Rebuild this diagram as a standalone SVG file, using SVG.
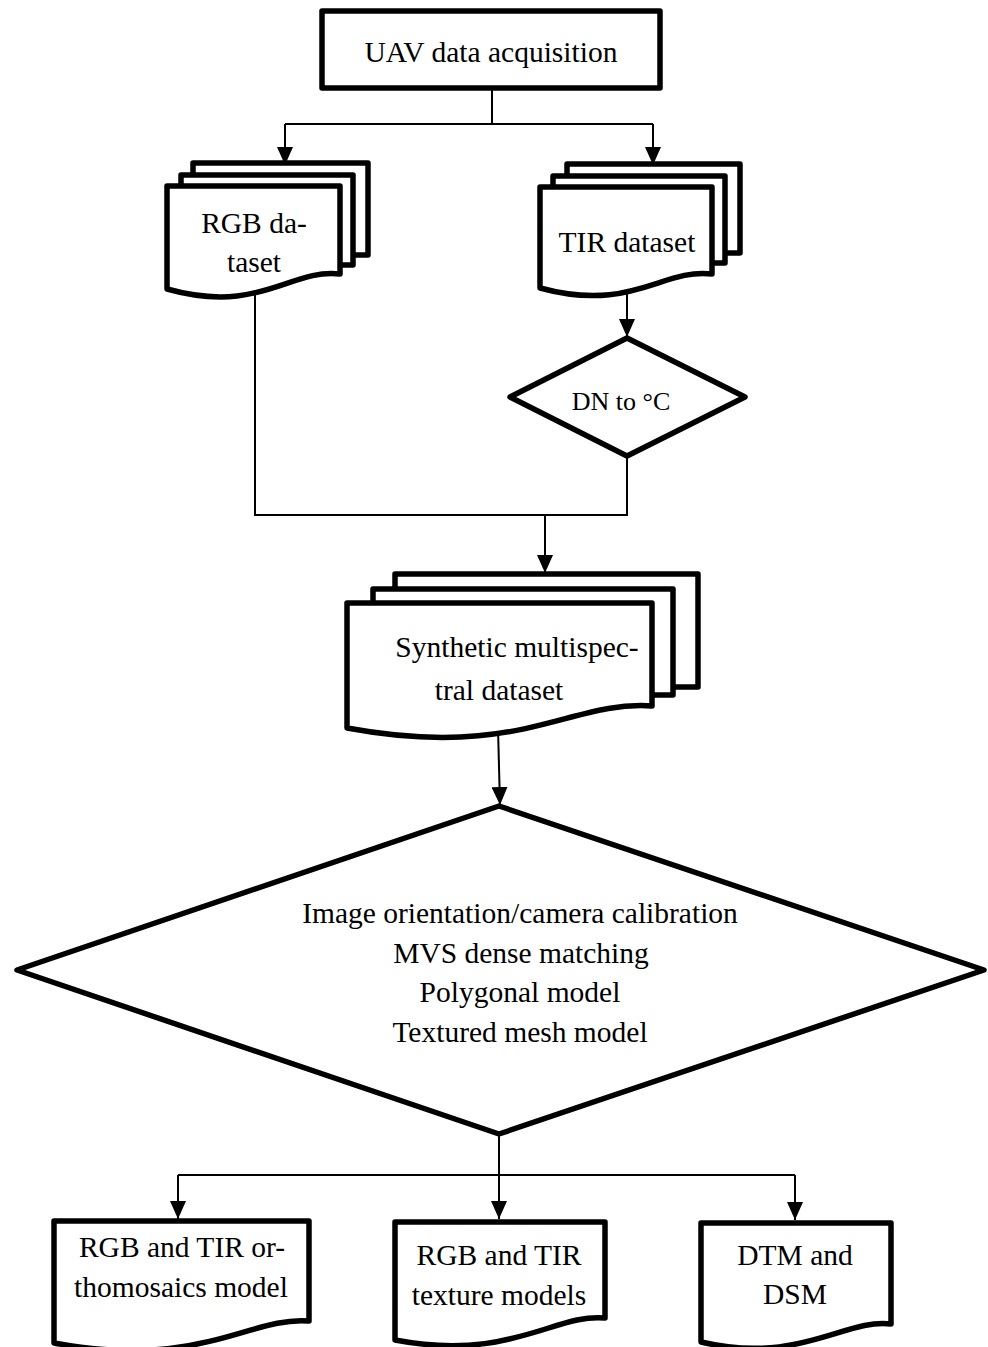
<svg xmlns="http://www.w3.org/2000/svg" width="988" height="1347" viewBox="0 0 988 1347" font-family="Liberation Serif, Times New Roman, serif">
<defs>
<style>
.shape{fill:#fff;stroke:#000;stroke-width:5.5;stroke-linejoin:round}
.conn{fill:none;stroke:#000;stroke-width:2}
.t{font-family:'Liberation Serif','Times New Roman',serif;font-size:29.5px;fill:#000;text-anchor:middle}
</style>
<marker id="arrd" viewBox="0 0 18 16" refX="18" refY="8" markerWidth="18" markerHeight="16" markerUnits="userSpaceOnUse" orient="auto">
<path d="M0,0 L18,8 L0,16 Z" fill="#000"/>
</marker>
</defs>
<rect width="988" height="1347" fill="#fff"/>

<g id="connectors">
<path class="conn" d="M492,88 V124"/>
<path class="conn" d="M285,124 H653"/>
<path class="conn" d="M285,124 V165" marker-end="url(#arrd)"/>
<path class="conn" d="M653,124 V165" marker-end="url(#arrd)"/>
<path class="conn" d="M627,292 V337" marker-end="url(#arrd)"/>
<path class="conn" d="M255,294 V515 H627 V456"/>
<path class="conn" d="M545,515 V573" marker-end="url(#arrd)"/>
<path class="conn" d="M498,728 L500,805" marker-end="url(#arrd)"/>
<path class="conn" d="M499,1135 V1175"/>
<path class="conn" d="M178,1175 H795"/>
<path class="conn" d="M178,1175 V1219" marker-end="url(#arrd)"/>
<path class="conn" d="M499,1175 V1219" marker-end="url(#arrd)"/>
<path class="conn" d="M795,1175 V1220" marker-end="url(#arrd)"/>
</g>

<g id="uav">
<rect class="shape" x="322" y="11" width="338" height="77"/>
<text class="t" x="491" y="62">UAV data acquisition</text>
</g>

<g id="rgb-dataset">
<rect class="shape" x="193" y="163" width="175" height="92"/>
<rect class="shape" x="181" y="175" width="172" height="90"/>
<path class="shape" d="M167,186 H340 V274 C290,268 260,315 167,289 Z"/>
<text class="t" x="254" y="233">RGB da-</text>
<text class="t" x="254" y="272">taset</text>
</g>

<g id="tir-dataset">
<rect class="shape" x="567" y="164" width="173" height="89"/>
<rect class="shape" x="553" y="176" width="172" height="87"/>
<path class="shape" d="M540,187 H712 V274 C662,268 632,313 540,288 Z"/>
<text class="t" x="627" y="252">TIR dataset</text>
</g>

<g id="dn-to-c">
<path class="shape" d="M627,338 L745,397 L627,456 L510,397 Z"/>
<text class="t" x="621" y="410" style="font-size:26px">DN to °C</text>
</g>

<g id="synthetic">
<rect class="shape" x="395" y="574" width="303" height="113"/>
<rect class="shape" x="373" y="589" width="300" height="106"/>
<path class="shape" d="M347,603 H652 V706 C570,700 520,760 347,728 Z"/>
<text class="t" x="517" y="657">Synthetic multispec-</text>
<text class="t" x="499" y="700">tral dataset</text>
</g>

<g id="processing">
<path class="shape" d="M499,806 L984,970 L499,1134 L17,970 Z"/>
<text class="t" x="520" y="923">Image orientation/camera calibration</text>
<text class="t" x="521" y="963">MVS dense matching</text>
<text class="t" x="520" y="1002">Polygonal model</text>
<text class="t" x="520" y="1042">Textured mesh model</text>
</g>

<g id="orthomosaics">
<path class="shape" d="M54,1221 H309 V1321 C250,1316 200,1370 54,1343 Z"/>
<text class="t" x="182" y="1257">RGB and TIR or-</text>
<text class="t" x="181" y="1297">thomosaics model</text>
</g>

<g id="texture">
<path class="shape" d="M395,1222 H605 V1318 C555,1313 510,1362 395,1340 Z"/>
<text class="t" x="499" y="1265">RGB and TIR</text>
<text class="t" x="499" y="1305">texture models</text>
</g>

<g id="dtm-dsm">
<path class="shape" d="M701,1223 H891 V1324 C845,1318 800,1365 701,1342 Z"/>
<text class="t" x="795" y="1265">DTM and</text>
<text class="t" x="795" y="1304">DSM</text>
</g>
</svg>
